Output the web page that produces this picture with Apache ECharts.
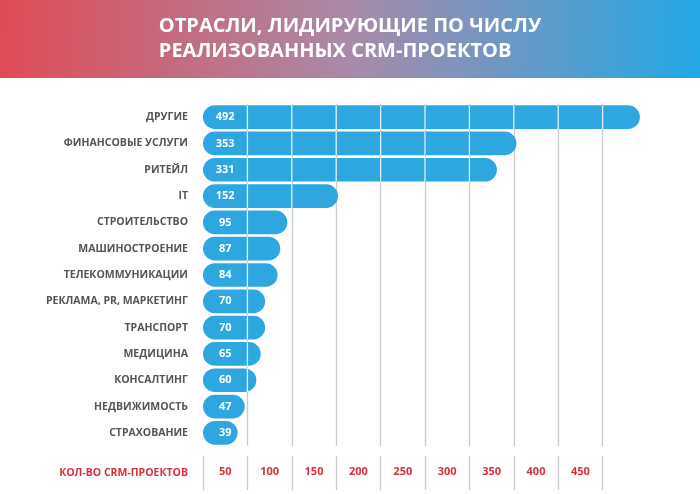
<!DOCTYPE html>
<html><head><meta charset="utf-8">
<script src="https://cdn.jsdelivr.net/npm/echarts@6/dist/echarts.min.js"></script>
<style>html,body{margin:0;padding:0;background:#fff}#c{width:700px;height:494px}</style>
</head><body><div id="c"></div>
<script>
let categories = ['ДРУГИЕ', 'ФИНАНСОВЫЕ УСЛУГИ', 'РИТЕЙЛ', 'IT', 'СТРОИТЕЛЬСТВО', 'МАШИНОСТРОЕНИЕ',
  'ТЕЛЕКОММУНИКАЦИИ', 'РЕКЛАМА, PR, МАРКЕТИНГ', 'ТРАНСПОРТ', 'МЕДИЦИНА', 'КОНСАЛТИНГ',
  'НЕДВИЖИМОСТЬ', 'СТРАХОВАНИЕ']
let values = [492, 353, 331, 152, 95, 87, 84, 70, 70, 65, 60, 47, 39]
let tickLabels = ['50', '100', '150', '200', '250', '300', '350', '400', '450', '']
let axisName = 'КОЛ-ВО CRM-ПРОЕКТОВ'
let step = 50

let blue = '#2ea7e1'
let font = '"Open Sans", sans-serif'

let chart = echarts.init(document.getElementById('c'))

// бар со скруглением и белыми делениями поверх
function renderBar(params, api) {
  let v = api.value(0), idx = api.value(1)
  let s = api.coord([0, idx]), e = api.coord([v, idx])
  let h = api.size([0, 1])[1] * 0.9
  let kids = [{
    type: 'rect',
    shape: { x: s[0], y: s[1] - h / 2, width: e[0] - s[0], height: h, r: h / 2 },
    style: { fill: blue }
  }]
  for (let k = step; k < v - 3; k += step) {
    let p = api.coord([k, idx])
    kids.push({ type: 'line', shape: { x1: p[0], y1: s[1] - h / 2, x2: p[0], y2: s[1] + h / 2 },
      style: { stroke: '#ffffff', lineWidth: 1.3, opacity: 0.85 } })
  }
  let mid = api.coord([step / 2, idx])
  kids.push({ type: 'text', x: mid[0], y: s[1],
    style: { text: String(v), fill: '#fff', font: 'bold 11px ' + font, align: 'center', verticalAlign: 'middle' } })
  return { type: 'group', children: kids }
}

chart.setOption({
  animation: false,
  graphic: [
    { type: 'rect', left: 0, top: 0, z: -10, shape: { width: 700, height: 78 },
      style: { fill: new echarts.graphic.LinearGradient(0, 0, 1, 0.3, [
        { offset: 0, color: '#e04b55' }, { offset: 0.5, color: '#a98aa8' }, { offset: 1, color: '#23a8e6' }]) } },
    { type: 'text', left: 'center', top: 14,
      style: { text: 'ОТРАСЛИ, ЛИДИРУЮЩИЕ ПО ЧИСЛУ\nРЕАЛИЗОВАННЫХ CRM-ПРОЕКТОВ', fill: '#fff',
        font: 'bold 20px ' + font, align: 'center', lineHeight: 25 } }
  ],
  grid: [
    { left: 203, right: 53, top: 104, height: 342 },
    { left: 203, right: 53, top: 456, height: 34 }
  ],
  xAxis: [
    { gridIndex: 0, type: 'value', min: 0, max: 500, interval: step,
      axisLabel: { show: false }, axisLine: { show: false }, axisTick: { show: false },
      splitLine: { showMinLine: false, showMaxLine: false, lineStyle: { color: '#cccccc', width: 1.3 } } },
    { gridIndex: 1, type: 'category', data: tickLabels, boundaryGap: true, position: 'top',
      axisLine: { show: false }, axisTick: { show: false },
      axisLabel: { inside: true, margin: 10, color: '#d8303a', fontWeight: 'bold', fontSize: 11, fontFamily: font, interval: 0 },
      splitLine: { show: true, interval: 0, showMaxLine: false, lineStyle: { color: '#cccccc', width: 1.3 } } }
  ],
  yAxis: [
    { gridIndex: 0, type: 'category', data: categories, inverse: true,
      axisLine: { show: false }, axisTick: { show: false },
      axisLabel: { margin: 15, color: '#555', fontWeight: 'bold', fontSize: 10.5, fontFamily: font } },
    { gridIndex: 1, type: 'category', data: [axisName],
      axisLine: { show: false }, axisTick: { show: false },
      axisLabel: { margin: 15, color: '#d8303a', fontWeight: 'bold', fontSize: 10.5, fontFamily: font } }
  ],
  series: [{
    type: 'custom', xAxisIndex: 0, yAxisIndex: 0, renderItem: renderBar,
    encode: { x: 0, y: 1 },
    data: values.map((v, i) => [v, i])
  }]
})
window.onresize = () => chart.resize()
</script></body></html>
